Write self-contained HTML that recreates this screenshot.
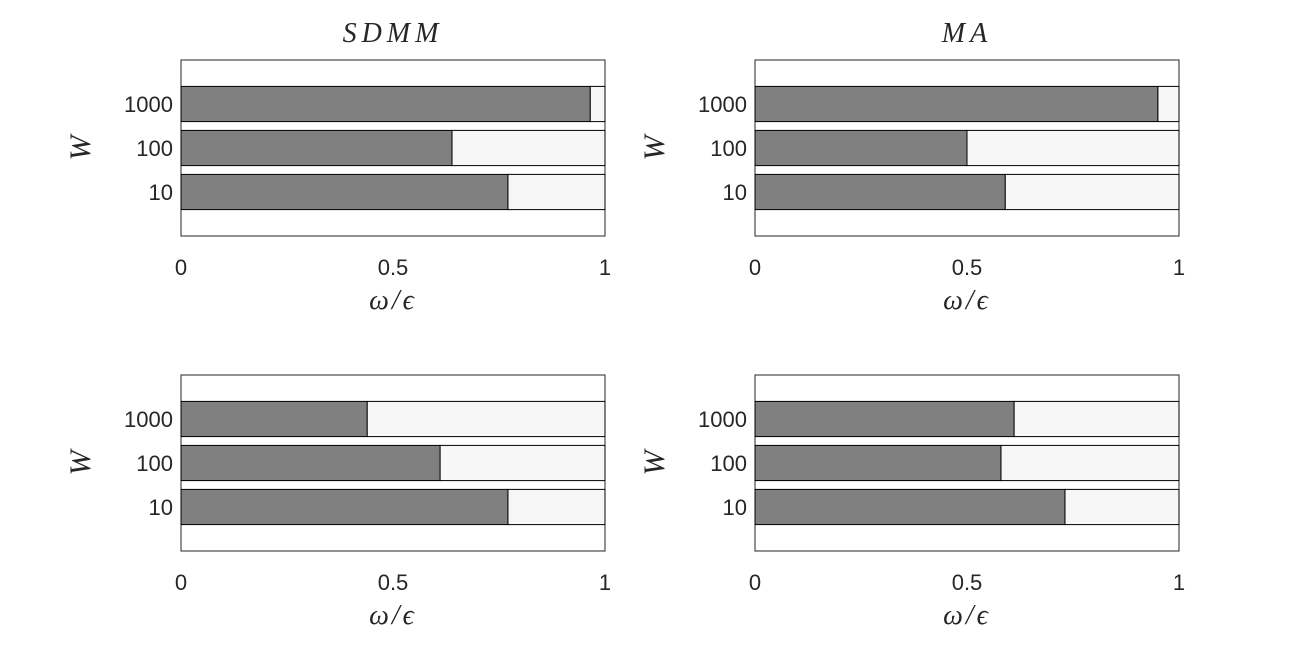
<!DOCTYPE html>
<html><head><meta charset="utf-8"><style>
body{margin:0;background:#fff}
svg text{font-family:"Liberation Sans",sans-serif;fill:#262626}
.m{font-family:"Liberation Serif",serif;font-style:italic}
</style></head><body>
<svg id="c" width="1304" height="665"></svg>
<script>
const categories=["10","100","1000"];
const sdmmTop=[0.771,0.639,0.965];
const maTop=[0.590,0.500,0.950];
const sdmmBottom=[0.771,0.611,0.439];
const maBottom=[0.731,0.580,0.611];
const xTicks=[0,0.5,1];
const xTickLabels=["0","0.5","1"];
const titles=["SDMM","MA","",""];
const panels=[
 {x:181,y:60,vals:sdmmTop,name:'sdmm-top'},
 {x:755,y:60,vals:maTop,name:'ma-top'},
 {x:181,y:375,vals:sdmmBottom,name:'sdmm-bottom'},
 {x:755,y:375,vals:maBottom,name:'ma-bottom'}];
const W=424,H=176,NS='http://www.w3.org/2000/svg';
const svg=document.getElementById('c');
function mk(t,a,p){const e=document.createElementNS(NS,t);for(const k in a)e.setAttribute(k,a[k]);(p||svg).appendChild(e);return e;}
panels.forEach((p,i)=>{
 const g=mk('g',{});
 
 
 const xs=v=>p.x+v*W, ys=v=>p.y+H-v*H/4;
 const box=mk('rect',{x:p.x,y:p.y,width:W,height:H,fill:'#fff',stroke:'#262626','stroke-width':1},g);
 
 
 p.vals.forEach((v,j)=>{
  const yc=ys(j+1),h=0.8*H/4;
  const r2=mk('rect',{x:xs(v),y:yc-h/2,width:xs(1)-xs(v),height:h,fill:'#f7f7f7',stroke:'#000','stroke-width':1},g);
  
  
  const r=mk('rect',{x:xs(0),y:yc-h/2,width:xs(v)-xs(0),height:h,fill:'#808080',stroke:'#000','stroke-width':1},g);
  
  
  const t=mk('text',{x:p.x-8,y:yc+8,'text-anchor':'end','font-size':22},g);t.textContent=categories[j];
  
  
 });
 xTicks.forEach((v,k)=>{
  const t=mk('text',{x:xs(v),y:p.y+H+39,'text-anchor':'middle','font-size':22},g);t.textContent=xTickLabels[k];
  
  
 });
 const xl=mk('text',{x:p.x+W/2,y:p.y+H+73,'text-anchor':'middle','font-size':28,class:'m','letter-spacing':3},g);xl.textContent='ω/ϵ';
 
 
 const yl=mk('text',{x:0,y:0,'text-anchor':'middle','font-size':30,class:'m',transform:`translate(${p.x-91},${p.y+H/2}) rotate(-90)`},g);yl.textContent='W';
 
 
 if(titles[i]){const tt=mk('text',{x:p.x+W/2,y:p.y-18,'text-anchor':'middle','font-size':28,class:'m','letter-spacing':5},g);tt.textContent=titles[i];
  
  }
});
</script></body></html>
